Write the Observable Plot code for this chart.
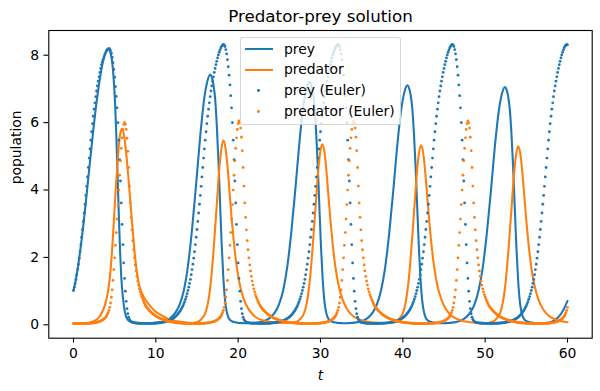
<!DOCTYPE html>
<html><head><meta charset="utf-8">
<script src="https://cdn.jsdelivr.net/npm/d3@7"></script>
<script src="https://cdn.jsdelivr.net/npm/@observablehq/plot@0.6"></script>
<style>
body{margin:0;background:#fff;}
#wrap{position:relative;width:600px;height:391px;font-family:"DejaVu Sans",sans-serif;color:#000;}
#legend{position:absolute;left:239.5px;top:36.8px;width:161px;height:88px;box-sizing:border-box;background:rgba(255,255,255,0.8);border:1px solid rgba(204,204,204,0.8);border-radius:3px;}
.h{position:absolute;}
.lbl{position:absolute;left:284px;font-size:13.9px;line-height:20px;height:20px;white-space:nowrap;}
</style></head>
<body><div id="wrap"><div id="chart"></div><div id="legend"></div></div>
<script>
const title = "Predator-prey solution";
const xLabel = "t";
const yLabel = "population";
const xTicks = [0, 10, 20, 30, 40, 50, 60];
const yTicks = [0, 2, 4, 6, 8];
const seriesNames = ["prey", "predator", "prey (Euler)", "predator (Euler)"];
const colors = ["#1f77b4", "#ff7f0e"];

// solid curves
const preyT = [0,0.3,0.6,0.9,1.2,1.5,1.8,2.1,2.4,2.7,3.0,3.3,3.6,3.9,4.2,4.5,4.7,4.9,5.05,5.2,5.35,5.5,5.65,5.8,6.0,6.2,6.4,6.6,6.9,7.3,7.8,8.5,9.0,
9.4,9.9,10.4,10.9,11.4,11.9,12.4,12.9,13.4,13.9,14.4,14.9,15.4,15.9,16.25,16.6,16.8,17.0,17.2,17.4,17.6,17.8,18.0,18.2,18.4,18.6,18.8,19.0,19.3,19.6,20.1,20.6,21.1,
21.46,21.96,22.46,22.96,23.46,23.96,24.46,24.96,25.46,25.96,26.46,26.96,27.46,27.96,28.31,28.66,28.86,29.06,29.26,29.46,29.66,29.86,30.06,30.26,30.46,30.66,30.86,31.06,31.36,31.66,32.16,32.66,33.16,
33.35,33.85,34.35,34.85,35.35,35.85,36.35,36.85,37.35,37.85,38.35,38.85,39.35,39.85,40.2,40.55,40.75,40.95,41.15,41.35,41.55,41.75,41.95,42.15,42.35,42.55,42.75,42.95,43.25,43.55,44.05,44.55,45.05,
45.2,45.7,46.2,46.7,47.2,47.7,48.2,48.7,49.2,49.7,50.2,50.7,51.2,51.7,52.05,52.4,52.6,52.8,53.0,53.2,53.4,53.6,53.8,54.0,54.2,54.4,54.6,54.8,55.1,55.4,55.9,56.4,56.9,
57.5,58.0,58.5,59.0,59.5,60.0];
const prey = [1.0,1.35,1.8,2.35,2.95,3.62,4.35,5.05,5.75,6.4,6.95,7.43,7.82,8.05,8.16,8.05,7.78,7.2,6.55,5.6,4.45,3.3,2.2,1.4,0.8,0.42,0.22,0.13,0.08,0.052,0.038,0.03,0.028,
0.032,0.04,0.055,0.08,0.125,0.21,0.35,0.59,1.0,1.73,2.82,4.17,5.6,6.74,7.2,7.41,7.33,7.1,6.7,5.92,4.88,3.6,2.36,1.38,0.73,0.38,0.21,0.13,0.08,0.055,0.038,0.031,0.028,
0.032,0.04,0.055,0.08,0.125,0.21,0.35,0.59,1.0,1.7,2.75,4.05,5.45,6.55,7.0,7.19,7.11,6.9,6.5,5.75,4.75,3.5,2.3,1.35,0.72,0.38,0.21,0.13,0.08,0.055,0.038,0.031,0.028,
0.032,0.04,0.055,0.08,0.125,0.21,0.35,0.59,1.0,1.68,2.71,3.99,5.37,6.45,6.9,7.09,7.01,6.8,6.4,5.66,4.68,3.45,2.27,1.33,0.71,0.38,0.21,0.13,0.08,0.055,0.038,0.031,0.028,
0.032,0.04,0.055,0.08,0.125,0.21,0.35,0.59,1.0,1.67,2.69,3.96,5.33,6.4,6.85,7.04,6.96,6.75,6.36,5.62,4.64,3.42,2.25,1.32,0.7,0.37,0.21,0.13,0.08,0.055,0.038,0.031,0.028,
0.04,0.07,0.13,0.24,0.42,0.69];

const predT = [0,1.0,1.5,2.0,2.5,3.0,3.5,3.8,4.1,4.3,4.5,4.7,4.9,5.1,5.3,5.5,5.7,5.86,6.05,6.25,6.45,6.65,6.9,7.15,7.4,7.65,7.9,8.2,8.6,9.1,9.8,10.5,11.4,12.2,13.0,13.9,
14.2,14.7,15.2,15.7,15.95,16.2,16.45,16.7,16.95,17.2,17.45,17.7,17.95,18.2,18.45,18.7,18.95,19.2,19.45,19.7,19.95,20.2,20.7,21.2,21.7,22.2,23.2,24.2,25.2,26.0,
26.2,26.7,27.2,27.7,27.95,28.2,28.45,28.7,28.95,29.2,29.45,29.7,29.95,30.2,30.45,30.7,30.95,31.2,31.45,31.7,31.95,32.2,32.7,33.2,33.7,34.2,35.2,36.2,37.2,38.0,
38.2,38.7,39.2,39.7,39.95,40.2,40.45,40.7,40.95,41.2,41.45,41.7,41.95,42.2,42.45,42.7,42.95,43.2,43.45,43.7,43.95,44.2,44.7,45.2,45.7,46.2,47.2,48.2,49.2,49.8,
50.0,50.5,51.0,51.5,51.75,52.0,52.25,52.5,52.75,53.0,53.25,53.5,53.75,54.0,54.25,54.5,54.75,55.0,55.25,55.5,55.75,56.0,56.5,57.0,57.5,58.0,59.0,60.0];
const pred = [0.02,0.02,0.03,0.05,0.095,0.18,0.37,0.56,0.85,1.15,1.6,2.25,3.05,3.9,4.6,5.3,5.68,5.79,5.7,5.4,4.95,4.4,3.65,2.9,2.2,1.62,1.25,0.98,0.78,0.6,0.41,0.29,0.17,0.11,0.07,0.045,
0.035,0.045,0.08,0.2,0.3,0.48,0.8,1.3,2.0,2.85,3.72,4.58,5.18,5.46,5.25,4.7,3.93,3.16,2.5,1.94,1.51,1.17,0.73,0.47,0.31,0.2,0.1,0.06,0.043,0.036,
0.035,0.045,0.08,0.2,0.3,0.48,0.8,1.3,1.98,2.8,3.65,4.5,5.08,5.34,5.15,4.6,3.85,3.1,2.45,1.9,1.48,1.15,0.72,0.46,0.3,0.2,0.1,0.06,0.043,0.036,
0.035,0.045,0.08,0.2,0.3,0.48,0.8,1.29,1.97,2.78,3.63,4.47,5.05,5.31,5.12,4.57,3.83,3.08,2.44,1.89,1.47,1.14,0.72,0.46,0.3,0.2,0.1,0.06,0.043,0.037,
0.035,0.045,0.08,0.2,0.3,0.48,0.8,1.29,1.96,2.77,3.61,4.45,5.02,5.28,5.09,4.55,3.81,3.07,2.42,1.88,1.46,1.14,0.71,0.46,0.3,0.2,0.1,0.06];

// Euler points, one every eulerStep from t = 0
const eulerStep = 0.1;
const eulerPrey = [
1.00,1.10,1.21,1.33,1.47,1.62,1.78,1.96,2.15,2.36,2.58,2.81,3.05,3.30,3.56,3.82,4.09,4.37,4.65,4.93,5.20,5.46,5.71,5.95,6.17,6.38,6.57,6.75,6.92,7.07,7.21,7.34,7.47,7.59,7.70,7.78,7.86,7.93,8.00,8.06,8.11,8.15,8.17,
8.18,8.17,8.12,8.04,7.92,7.76,7.56,7.33,7.05,6.76,6.42,5.98,5.46,4.88,4.25,3.60,2.96,2.36,1.82,1.36,0.98,0.68,0.46,0.31,0.21,0.14,0.10,0.075,
0.06,0.05,0.045,0.04,0.037,0.034,0.032,0.03,0.029,0.028,0.027,0.026,0.025,0.025,0.024,0.024,0.024,0.024,0.024,0.024,0.024,0.024,0.025,0.025,0.026,0.027,0.028,0.029,0.03,0.032,0.034,0.036,0.038,0.041,0.044,0.047,0.051,0.055,0.06,0.065,0.07,0.077,0.084,0.092,0.1,0.11,0.12,0.13,0.145,0.16,0.175,0.19,0.21,0.23,0.255,0.28,0.31,0.34,0.375,0.41,0.455,0.5,0.55,0.61,0.67,0.74,0.82,0.905,
1.00,1.10,1.21,1.33,1.47,1.62,1.78,1.96,2.15,2.36,2.58,2.81,3.05,3.30,3.56,3.82,4.09,4.37,4.65,4.93,5.20,5.46,5.71,5.95,6.17,6.38,6.57,6.75,6.92,7.07,7.21,7.34,7.47,7.59,7.70,7.80,7.90,7.99,8.07,8.14,8.20,8.25,8.28,
8.30,8.29,8.24,8.15,8.02,7.85,7.64,7.39,7.10,6.78,6.42,5.98,5.46,4.88,4.25,3.60,2.96,2.36,1.82,1.36,0.98,0.68,0.46,0.31,0.21,0.14,0.10,0.075,
0.06,0.05,0.045,0.04,0.037,0.034,0.032,0.03,0.029,0.028,0.027,0.026,0.025,0.025,0.024,0.024,0.024,0.024,0.024,0.024,0.024,0.024,0.025,0.025,0.026,0.027,0.028,0.029,0.03,0.032,0.034,0.036,0.038,0.041,0.044,0.047,0.051,0.055,0.06,0.065,0.07,0.077,0.084,0.092,0.1,0.11,0.12,0.13,0.145,0.16,0.175,0.19,0.21,0.23,0.255,0.28,0.31,0.34,0.375,0.41,0.455,0.5,0.55,0.61,0.67,0.74,0.82,0.905,
1.00,1.10,1.21,1.33,1.47,1.62,1.78,1.96,2.15,2.36,2.58,2.81,3.05,3.30,3.56,3.82,4.09,4.37,4.65,4.93,5.20,5.46,5.71,5.95,6.17,6.38,6.57,6.75,6.92,7.07,7.21,7.34,7.47,7.59,7.70,7.80,7.90,7.99,8.07,8.14,8.20,8.25,8.28,
8.30,8.29,8.24,8.15,8.02,7.85,7.64,7.39,7.10,6.78,6.42,5.98,5.46,4.88,4.25,3.60,2.96,2.36,1.82,1.36,0.98,0.68,0.46,0.31,0.21,0.14,0.10,0.075,
0.06,0.05,0.045,0.04,0.037,0.034,0.032,0.03,0.029,0.028,0.027,0.026,0.025,0.025,0.024,0.024,0.024,0.024,0.024,0.024,0.024,0.024,0.025,0.025,0.026,0.027,0.028,0.029,0.03,0.032,0.034,0.036,0.038,0.041,0.044,0.047,0.051,0.055,0.06,0.065,0.07,0.077,0.084,0.092,0.1,0.11,0.12,0.13,0.145,0.16,0.175,0.19,0.21,0.23,0.255,0.28,0.31,0.34,0.375,0.41,0.455,0.5,0.55,0.61,0.67,0.74,0.82,0.905,
1.00,1.10,1.21,1.33,1.47,1.62,1.78,1.96,2.15,2.36,2.58,2.81,3.05,3.30,3.56,3.82,4.09,4.37,4.65,4.93,5.20,5.46,5.71,5.95,6.17,6.38,6.57,6.75,6.92,7.07,7.21,7.34,7.47,7.59,7.70,7.80,7.90,7.99,8.07,8.14,8.20,8.25,8.28,
8.30,8.29,8.24,8.15,8.02,7.85,7.64,7.39,7.10,6.78,6.42,5.98,5.46,4.88,4.25,3.60,2.96,2.36,1.82,1.36,0.98,0.68,0.46,0.31,0.21,0.14,0.10,0.075,
0.06,0.05,0.045,0.04,0.037,0.034,0.032,0.03,0.029,0.028,0.027,0.026,0.025,0.025,0.024,0.024,0.024,0.024,0.024,0.024,0.024,0.024,0.025,0.025,0.026,0.027,0.028,0.029,0.03,0.032,0.034,0.036,0.038,0.041,0.044,0.047,0.051,0.055,0.06,0.065,0.07,0.077,0.084,0.092,0.1,0.11,0.12,0.13,0.145,0.16,0.175,0.19,0.21,0.23,0.255,0.28,0.31,0.34,0.375,0.41,0.455,0.5,0.55,0.61,0.67,0.74,0.82,0.905,
1.00,1.10,1.21,1.33,1.47,1.62,1.78,1.96,2.15,2.36,2.58,2.81,3.05,3.30,3.56,3.82,4.09,4.37,4.65,4.93,5.20,5.46,5.71,5.95,6.17,6.38,6.57,6.75,6.92,7.07,7.21,7.34,7.47,7.59,7.70,7.80,7.90,7.99,8.07,8.14,8.20,8.25,8.28,
8.30,8.29];
const eulerPred = [
0.021,0.021,0.020,0.020,0.020,0.019,0.019,0.019,0.019,0.019,0.019,0.019,0.020,0.020,0.021,0.022,0.023,0.024,0.025,0.027,0.029,0.031,0.033,0.036,0.039,0.042,0.046,0.050,0.055,0.061,0.068,0.076,0.085,0.095,0.107,0.121,0.137,0.156,0.178,0.205,0.24,0.285,0.34,
0.41,0.50,0.63,0.80,1.02,1.30,1.62,1.97,2.34,2.72,3.12,3.55,3.98,4.42,4.85,5.22,5.53,5.78,5.93,5.98,5.93,5.78,5.52,5.13,4.65,4.10,3.60,3.17,2.80,2.48,2.21,1.97,1.76,1.58,1.42,1.28,1.16,1.05,0.96,0.88,0.81,0.745,0.685,0.63,0.58,0.535,0.50,0.47,0.44,0.41,0.385,0.36,0.337,0.316,0.296,0.277,0.26,0.243,0.228,0.213,0.20,0.187,0.175,0.164,0.154,0.144,0.135,0.126,0.118,0.111,0.104,0.097,0.091,0.085,0.08,0.075,0.07,0.066,0.062,0.058,0.054,0.051,0.048,0.045,0.042,0.039,0.037,0.035,0.033,0.031,0.029,0.027,0.026,0.024,0.023,0.022,
0.021,0.021,0.020,0.020,0.020,0.019,0.019,0.019,0.019,0.019,0.019,0.019,0.020,0.020,0.021,0.022,0.023,0.024,0.025,0.027,0.029,0.031,0.033,0.036,0.039,0.042,0.046,0.050,0.055,0.061,0.068,0.076,0.085,0.095,0.107,0.121,0.137,0.156,0.178,0.205,0.24,0.285,0.34,
0.41,0.50,0.63,0.80,1.02,1.30,1.62,1.97,2.34,2.72,3.12,3.55,3.98,4.42,4.85,5.22,5.53,5.78,5.95,6.03,5.98,5.82,5.55,5.15,4.65,4.10,3.60,3.17,2.80,2.48,2.21,1.97,1.76,1.58,1.42,1.28,1.16,1.05,0.96,0.88,0.81,0.745,0.685,0.63,0.58,0.535,0.50,0.47,0.44,0.41,0.385,0.36,0.337,0.316,0.296,0.277,0.26,0.243,0.228,0.213,0.20,0.187,0.175,0.164,0.154,0.144,0.135,0.126,0.118,0.111,0.104,0.097,0.091,0.085,0.08,0.075,0.07,0.066,0.062,0.058,0.054,0.051,0.048,0.045,0.042,0.039,0.037,0.035,0.033,0.031,0.029,0.027,0.026,0.024,0.023,0.022,
0.021,0.021,0.020,0.020,0.020,0.019,0.019,0.019,0.019,0.019,0.019,0.019,0.020,0.020,0.021,0.022,0.023,0.024,0.025,0.027,0.029,0.031,0.033,0.036,0.039,0.042,0.046,0.050,0.055,0.061,0.068,0.076,0.085,0.095,0.107,0.121,0.137,0.156,0.178,0.205,0.24,0.285,0.34,
0.41,0.50,0.63,0.80,1.02,1.30,1.62,1.97,2.34,2.72,3.12,3.55,3.98,4.42,4.85,5.22,5.53,5.78,5.95,6.03,5.98,5.82,5.55,5.15,4.65,4.10,3.60,3.17,2.80,2.48,2.21,1.97,1.76,1.58,1.42,1.28,1.16,1.05,0.96,0.88,0.81,0.745,0.685,0.63,0.58,0.535,0.50,0.47,0.44,0.41,0.385,0.36,0.337,0.316,0.296,0.277,0.26,0.243,0.228,0.213,0.20,0.187,0.175,0.164,0.154,0.144,0.135,0.126,0.118,0.111,0.104,0.097,0.091,0.085,0.08,0.075,0.07,0.066,0.062,0.058,0.054,0.051,0.048,0.045,0.042,0.039,0.037,0.035,0.033,0.031,0.029,0.027,0.026,0.024,0.023,0.022,
0.021,0.021,0.020,0.020,0.020,0.019,0.019,0.019,0.019,0.019,0.019,0.019,0.020,0.020,0.021,0.022,0.023,0.024,0.025,0.027,0.029,0.031,0.033,0.036,0.039,0.042,0.046,0.050,0.055,0.061,0.068,0.076,0.085,0.095,0.107,0.121,0.137,0.156,0.178,0.205,0.24,0.285,0.34,
0.41,0.50,0.63,0.80,1.02,1.30,1.62,1.97,2.34,2.72,3.12,3.55,3.98,4.42,4.85,5.22,5.53,5.78,5.95,6.03,5.98,5.82,5.55,5.15,4.65,4.10,3.60,3.17,2.80,2.48,2.21,1.97,1.76,1.58,1.42,1.28,1.16,1.05,0.96,0.88,0.81,0.745,0.685,0.63,0.58,0.535,0.50,0.47,0.44,0.41,0.385,0.36,0.337,0.316,0.296,0.277,0.26,0.243,0.228,0.213,0.20,0.187,0.175,0.164,0.154,0.144,0.135,0.126,0.118,0.111,0.104,0.097,0.091,0.085,0.08,0.075,0.07,0.066,0.062,0.058,0.054,0.051,0.048,0.045,0.042,0.039,0.037,0.035,0.033,0.031,0.029,0.027,0.026,0.024,0.023,0.022,
0.021,0.021,0.020,0.020,0.020,0.019,0.019,0.019,0.019,0.019,0.019,0.019,0.020,0.020,0.021,0.022,0.023,0.024,0.025,0.027,0.029,0.031,0.033,0.036,0.039,0.042,0.046,0.050,0.055,0.061,0.068,0.076,0.085,0.095,0.107,0.121,0.137,0.156,0.178,0.205,0.24,0.285,0.34,
0.41,0.50];

const preyRows = preyT.map((t, i) => ({t, v: prey[i]}));
const predRows = predT.map((t, i) => ({t, v: pred[i]}));
const ePreyRows = eulerPrey.map((v, i) => ({t: i * eulerStep, v}));
const ePredRows = eulerPred.map((v, i) => ({t: i * eulerStep, v}));

const FS = 13.9;
const DOT_R = 1.4;
const chart = Plot.plot({
  width: 600, height: 391,
  marginLeft: 48.3, marginRight: 8.3, marginTop: 30, marginBottom: 53.3,
  style: {fontFamily: "DejaVu Sans, sans-serif", fontSize: FS + "px", color: "#000", background: "#fff", overflow: "visible"},
  x: {domain: [-3, 63]},
  y: {domain: [-0.415, 8.715]},
  marks: [
    Plot.line(preyRows, {x: "t", y: "v", stroke: colors[0], strokeWidth: 2.08, curve: "monotone-x"}),
    Plot.line(predRows, {x: "t", y: "v", stroke: colors[1], strokeWidth: 2.08, curve: "monotone-x"}),
    Plot.dot(ePreyRows, {x: "t", y: "v", r: DOT_R, fill: colors[0], stroke: "none"}),
    Plot.dot(ePredRows, {x: "t", y: "v", r: DOT_R, fill: colors[1], stroke: "none"}),
    Plot.frame({stroke: "#000", strokeWidth: 1.1}),
    Plot.axisX({ticks: xTicks, tickSize: 4.9, tickPadding: 5.4, label: null, strokeWidth: 1.1, fontSize: FS}),
    Plot.axisY({ticks: yTicks, tickSize: 4.9, tickPadding: 4.9, label: null, strokeWidth: 1.1, fontSize: FS, dy: 0.6}),
    Plot.text([title], {text: d => d, frameAnchor: "top", dy: -8.3, lineAnchor: "bottom", fontSize: 16.7}),
    Plot.text([xLabel], {text: d => d, frameAnchor: "bottom", dy: 41.3, lineAnchor: "bottom", fontStyle: "italic", fontSize: FS}),
    Plot.text([yLabel], {text: d => d, frameAnchor: "left", dx: -27.5, rotate: -90, lineAnchor: "bottom", fontSize: FS})
  ]
});
document.getElementById("chart").appendChild(chart);

// legend (matplotlib style, semi-transparent box)
const lg = document.getElementById("legend");
const rowsY = [49.2, 70.0, 90.8, 111.6];
const boxL = 239.5, boxT = 36.8;
seriesNames.forEach((name, i) => {
  const c = colors[i % 2];
  const cy = rowsY[i] - boxT - 1;
  const h = document.createElement("div");
  h.className = "h";
  if (i < 2) {
    Object.assign(h.style, {left: (244.5 - boxL - 1) + "px", top: (cy - 1.04) + "px", width: "28px", height: "2.08px", background: c});
  } else {
    Object.assign(h.style, {left: (258.5 - boxL - 1 - DOT_R) + "px", top: (cy - DOT_R) + "px", width: (2 * DOT_R) + "px", height: (2 * DOT_R) + "px", borderRadius: "50%", background: c});
  }
  lg.appendChild(h);
  const t = document.createElement("div");
  t.className = "lbl";
  t.textContent = name;
  t.style.left = (284 - boxL - 1) + "px";
  t.style.top = (cy - 10.5) + "px";
  lg.appendChild(t);
});
</script>
</body></html>
